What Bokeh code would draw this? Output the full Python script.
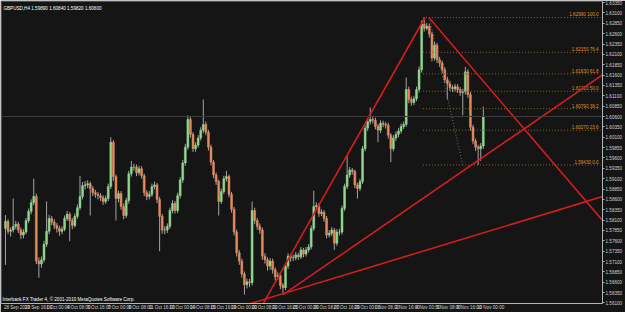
from bokeh.plotting import figure
from bokeh.models import Range1d, FixedTicker, Label, Span, PrintfTickFormatter
from bokeh.embed import file_html
from bokeh.resources import INLINE
from bokeh.core.properties import value

# ---------------- data (GBPUSD, H4, bars from 28 Sep 2010 08:00) ----------------
opens = [
    1.5790, 1.5807, 1.5783, 1.5786, 1.5795, 1.5800, 1.5786, 1.5774, 1.5781, 1.5809,
    1.5831, 1.5852, 1.5867, 1.5711, 1.5704, 1.5714, 1.5752, 1.5783, 1.5814, 1.5805,
    1.5797, 1.5790, 1.5783, 1.5788, 1.5814, 1.5824, 1.5809, 1.5797, 1.5819, 1.5840,
    1.5867, 1.5893, 1.5895, 1.5898, 1.5886, 1.5876, 1.5872, 1.5869, 1.5864, 1.5855,
    1.5862, 1.5891, 1.5998, 1.5915, 1.5862, 1.5874, 1.5843, 1.5821, 1.5857, 1.5922,
    1.5938, 1.5938, 1.5924, 1.5934, 1.5917, 1.5876, 1.5867, 1.5872, 1.5891, 1.5895,
    1.5860, 1.5819, 1.5786, 1.5786, 1.5795, 1.5833, 1.5850, 1.5833, 1.5869, 1.5907,
    1.5948, 1.5986, 1.6053, 1.6017, 1.5982, 1.5991, 1.6008, 1.6027, 1.6041, 1.6022,
    1.5986, 1.5950, 1.5919, 1.5903, 1.5855, 1.5879, 1.5910, 1.5915, 1.5872, 1.5836,
    1.5781, 1.5731, 1.5711, 1.5680, 1.5654, 1.5661, 1.5659, 1.5833, 1.5809, 1.5795,
    1.5786, 1.5723, 1.5714, 1.5699, 1.5711, 1.5690, 1.5673, 1.5676, 1.5652, 1.5647,
    1.5699, 1.5723, 1.5719, 1.5719, 1.5726, 1.5721, 1.5738, 1.5728, 1.5738, 1.5745,
    1.5790, 1.5843, 1.5845, 1.5826, 1.5829, 1.5814, 1.5774, 1.5778, 1.5786, 1.5754,
    1.5781, 1.5781, 1.5838, 1.5891, 1.5919, 1.5931, 1.5927, 1.5895, 1.5886, 1.5903,
    1.5982, 1.6032, 1.6048, 1.6053, 1.6051, 1.6036, 1.6027, 1.6044, 1.6041, 1.6039,
    1.6015, 1.5982, 1.6008, 1.6017, 1.6025, 1.6036, 1.6041, 1.6125, 1.6101, 1.6094,
    1.6103, 1.6125, 1.6173, 1.6283, 1.6273, 1.6278, 1.6259, 1.6201, 1.6232, 1.6197,
    1.6189, 1.6173, 1.6149, 1.6139, 1.6130, 1.6127, 1.6132, 1.6125, 1.6118, 1.6120,
    1.6168, 1.6113, 1.6034, 1.6001, 1.5986, 1.5982, 1.5989,
]
highs = [
    1.5822, 1.5812, 1.5792, 1.5862, 1.5808, 1.5806, 1.5792, 1.5788, 1.5815, 1.5838,
    1.5860, 1.5910, 1.5874, 1.5720, 1.5722, 1.5760, 1.5855, 1.5823, 1.5820, 1.5812,
    1.5803, 1.5796, 1.5795, 1.5821, 1.5832, 1.5829, 1.5815, 1.5826, 1.5848, 1.5917,
    1.5902, 1.5904, 1.5906, 1.5903, 1.5892, 1.5883, 1.5878, 1.5875, 1.5870, 1.5869,
    1.5898, 1.6010, 1.6003, 1.5920, 1.5881, 1.5880, 1.5850, 1.5864, 1.5929, 1.5953,
    1.5946, 1.5944, 1.5941, 1.5940, 1.5922, 1.5882, 1.5880, 1.5898, 1.5903, 1.5900,
    1.5866, 1.5825, 1.5795, 1.5802, 1.5840, 1.5858, 1.5856, 1.5876, 1.5914, 1.5955,
    1.5994, 1.6063, 1.6060, 1.6022, 1.5998, 1.6015, 1.6034, 1.6101, 1.6048, 1.6028,
    1.5992, 1.5955, 1.5925, 1.5908, 1.5886, 1.5917, 1.5929, 1.5920, 1.5878, 1.5842,
    1.5787, 1.5738, 1.5717, 1.5686, 1.5669, 1.5668, 1.5855, 1.5840, 1.5815, 1.5802,
    1.5792, 1.5730, 1.5720, 1.5718, 1.5717, 1.5696, 1.5684, 1.5682, 1.5658, 1.5706,
    1.5730, 1.5728, 1.5727, 1.5733, 1.5731, 1.5745, 1.5743, 1.5745, 1.5752, 1.5797,
    1.5881, 1.5853, 1.5851, 1.5836, 1.5834, 1.5820, 1.5786, 1.5793, 1.5791, 1.5788,
    1.5789, 1.5845, 1.5898, 1.5965, 1.5938, 1.5936, 1.5932, 1.5900, 1.5910, 1.5989,
    1.6039, 1.6056, 1.6082, 1.6060, 1.6057, 1.6042, 1.6051, 1.6050, 1.6047, 1.6045,
    1.6020, 1.6015, 1.6024, 1.6032, 1.6043, 1.6048, 1.6154, 1.6132, 1.6108, 1.6110,
    1.6132, 1.6181, 1.6292, 1.6299, 1.6286, 1.6284, 1.6265, 1.6240, 1.6238, 1.6204,
    1.6195, 1.6179, 1.6156, 1.6146, 1.6136, 1.6139, 1.6138, 1.6131, 1.6127, 1.6180,
    1.6174, 1.6119, 1.6040, 1.6007, 1.5992, 1.5996, 1.6084,
]
lows = [
    1.5702, 1.5776, 1.5770, 1.5780, 1.5788, 1.5779, 1.5764, 1.5766, 1.5776, 1.5803,
    1.5824, 1.5846, 1.5704, 1.5671, 1.5695, 1.5708, 1.5745, 1.5776, 1.5798, 1.5788,
    1.5780, 1.5772, 1.5776, 1.5783, 1.5808, 1.5759, 1.5788, 1.5792, 1.5813, 1.5834,
    1.5860, 1.5884, 1.5887, 1.5821, 1.5868, 1.5864, 1.5860, 1.5856, 1.5847, 1.5849,
    1.5856, 1.5885, 1.5905, 1.5809, 1.5853, 1.5835, 1.5812, 1.5815, 1.5850, 1.5915,
    1.5929, 1.5916, 1.5918, 1.5910, 1.5868, 1.5858, 1.5860, 1.5866, 1.5884, 1.5851,
    1.5735, 1.5777, 1.5776, 1.5779, 1.5789, 1.5826, 1.5826, 1.5827, 1.5862, 1.5900,
    1.5941, 1.5980, 1.6009, 1.5974, 1.5975, 1.5985, 1.6002, 1.6020, 1.6015, 1.5978,
    1.5942, 1.5911, 1.5895, 1.5821, 1.5849, 1.5873, 1.5903, 1.5865, 1.5828, 1.5773,
    1.5722, 1.5702, 1.5671, 1.5630, 1.5645, 1.5648, 1.5652, 1.5801, 1.5787, 1.5777,
    1.5714, 1.5705, 1.5688, 1.5690, 1.5681, 1.5664, 1.5666, 1.5643, 1.5630, 1.5641,
    1.5692, 1.5710, 1.5711, 1.5713, 1.5714, 1.5716, 1.5720, 1.5722, 1.5732, 1.5739,
    1.5784, 1.5836, 1.5818, 1.5820, 1.5806, 1.5766, 1.5768, 1.5771, 1.5738, 1.5748,
    1.5773, 1.5775, 1.5832, 1.5885, 1.5912, 1.5920, 1.5887, 1.5862, 1.5880, 1.5897,
    1.5976, 1.6025, 1.6041, 1.6043, 1.6029, 1.5998, 1.6020, 1.6034, 1.6031, 1.6007,
    1.5950, 1.5976, 1.6001, 1.6010, 1.6019, 1.6030, 1.6035, 1.6092, 1.6086, 1.6088,
    1.6097, 1.6118, 1.6166, 1.6265, 1.6268, 1.6251, 1.6193, 1.6195, 1.6189, 1.6180,
    1.6165, 1.6141, 1.6101, 1.6122, 1.6119, 1.6120, 1.6117, 1.6110, 1.6063, 1.6113,
    1.6105, 1.6026, 1.5993, 1.5977, 1.5943, 1.5953, 1.5982,
]
closes = [
    1.5807, 1.5783, 1.5786, 1.5795, 1.5800, 1.5786, 1.5774, 1.5781, 1.5809, 1.5831,
    1.5852, 1.5867, 1.5711, 1.5704, 1.5714, 1.5752, 1.5783, 1.5814, 1.5805, 1.5797,
    1.5790, 1.5783, 1.5788, 1.5814, 1.5824, 1.5809, 1.5797, 1.5819, 1.5840, 1.5867,
    1.5893, 1.5895, 1.5898, 1.5886, 1.5876, 1.5872, 1.5869, 1.5864, 1.5855, 1.5862,
    1.5891, 1.5998, 1.5915, 1.5862, 1.5874, 1.5843, 1.5821, 1.5857, 1.5922, 1.5938,
    1.5938, 1.5924, 1.5934, 1.5917, 1.5876, 1.5867, 1.5872, 1.5891, 1.5895, 1.5860,
    1.5819, 1.5786, 1.5786, 1.5795, 1.5833, 1.5850, 1.5833, 1.5869, 1.5907, 1.5948,
    1.5986, 1.6053, 1.6017, 1.5982, 1.5991, 1.6008, 1.6027, 1.6041, 1.6022, 1.5986,
    1.5950, 1.5919, 1.5903, 1.5855, 1.5879, 1.5910, 1.5915, 1.5872, 1.5836, 1.5781,
    1.5731, 1.5711, 1.5680, 1.5654, 1.5661, 1.5659, 1.5833, 1.5809, 1.5795, 1.5786,
    1.5723, 1.5714, 1.5699, 1.5711, 1.5690, 1.5673, 1.5676, 1.5652, 1.5647, 1.5699,
    1.5723, 1.5719, 1.5719, 1.5726, 1.5721, 1.5738, 1.5728, 1.5738, 1.5745, 1.5790,
    1.5843, 1.5845, 1.5826, 1.5829, 1.5814, 1.5774, 1.5778, 1.5786, 1.5754, 1.5781,
    1.5781, 1.5838, 1.5891, 1.5919, 1.5931, 1.5927, 1.5895, 1.5886, 1.5903, 1.5982,
    1.6032, 1.6048, 1.6053, 1.6051, 1.6036, 1.6027, 1.6044, 1.6041, 1.6039, 1.6015,
    1.5982, 1.6008, 1.6017, 1.6025, 1.6036, 1.6041, 1.6125, 1.6101, 1.6094, 1.6103,
    1.6125, 1.6173, 1.6283, 1.6273, 1.6278, 1.6259, 1.6201, 1.6232, 1.6197, 1.6189,
    1.6173, 1.6149, 1.6139, 1.6130, 1.6127, 1.6132, 1.6125, 1.6118, 1.6120, 1.6168,
    1.6113, 1.6034, 1.6001, 1.5986, 1.5982, 1.5989, 1.6060,
]

# time-axis labels (every 8th H4 bar)
time_label_bars = [0, 8, 16, 24, 32, 40, 48, 56, 64, 72, 80, 88, 96, 104, 112, 120,
                   128, 136, 144, 152, 160, 168, 176, 184]
time_labels = ["28 Sep 2010", "29 Sep 16:00", "1 Oct 00:00", "4 Oct 08:00", "5 Oct 16:00",
               "7 Oct 00:00", "8 Oct 08:00", "11 Oct 16:00", "13 Oct 00:00", "14 Oct 08:00",
               "15 Oct 16:00", "19 Oct 00:00", "20 Oct 08:00", "21 Oct 16:00", "25 Oct 00:00",
               "26 Oct 08:00", "27 Oct 16:00", "29 Oct 00:00", "1 Nov 08:00", "2 Nov 16:00",
               "4 Nov 00:00", "5 Nov 08:00", "8 Nov 16:00", "10 Nov 00:00"]

# price-axis ticks
price_ticks = [1.6335, 1.6310, 1.6285, 1.6260, 1.6235, 1.6210, 1.6185, 1.6160, 1.6135, 1.6110,
               1.6085, 1.6060, 1.6035, 1.6010, 1.5985, 1.5960, 1.5935, 1.5910, 1.5885, 1.5860,
               1.5835, 1.5810, 1.5785, 1.5760, 1.5735, 1.5710, 1.5685, 1.5660, 1.5635, 1.5610]

# Fibonacci retracement (high / low anchors)
fib_anchor_bars = [165, 178]
fib_high = 1.6299
fib_low = 1.5943
fib_levels = [0.0, 23.6, 38.2, 50.0, 61.8, 76.4, 100.0]

# trend lines: (bar, price) anchor pairs
trend_x = [[95.0, 163.3], [164.8, 240.0], [85.0, 240.0], [108.1, 240.0]]
trend_y = [[1.5550, 1.6299], [1.6299, 1.5754], [1.5589, 1.5881], [1.5630, 1.6193]]

header = "GBPUSD,H4  1.59890 1.60840 1.59820 1.60600"
copyright_text = "Interbank FX Trader 4, \u00a9 2001-2010 MetaQuotes Software Corp."

# ---------------- styling ----------------
BG = "#151515"
BULL = "#8fd98f"
BEAR = "#e8895e"
WICK = "#a4a4a4"
RED = "#d21e1e"
FIB_LINE = "#8f6326"
FIB_TXT = "#e08f2a"
AXIS = "#b4b4b4"
TXT = "#d0d0d0"
FONT = "Liberation Sans"

n = len(closes)
bars = list(range(n))
colors = [BULL if c >= o else BEAR for o, c in zip(opens, closes)]
tops = [max(o, c) for o, c in zip(opens, closes)]
bots = [min(o, c) for o, c in zip(opens, closes)]

p = figure(width=625, height=312, output_backend="svg", toolbar_location=None,
           x_range=Range1d(-1.55, 232.4), y_range=Range1d(1.56087, 1.63376),
           y_axis_location="right", x_axis_location="below",
           min_border_left=1, min_border_top=1, min_border_right=18, min_border_bottom=6,
           background_fill_color=BG, border_fill_color=BG)
p.grid.visible = False
p.outline_line_color = "#505050"

# bid line
p.add_layout(Span(location=closes[-1], dimension="width", line_color="#3c3c3c", line_width=1))

# candles
p.segment(x0=bars, x1=bars, y0=lows, y1=highs, color=WICK, line_width=1)
p.vbar(x=bars, width=0.75, top=tops, bottom=bots, fill_color=colors, line_color=colors, line_width=0.5)

# fibonacci
fib_prices = [fib_low + (fib_high - fib_low) * lv / 100.0 for lv in fib_levels]
p.segment(x0=[162.5] * len(fib_prices), x1=[231.6] * len(fib_prices), y0=fib_prices, y1=fib_prices,
          line_color=FIB_LINE, line_dash="1 2", line_width=1)
p.line(fib_anchor_bars, [fib_high, fib_low], line_color="#6e6e6e", line_dash="1 2", line_width=1)
p.text(x=[231.4] * len(fib_prices), y=fib_prices,
       text=["%.5f  %.1f" % (pr, lv) for pr, lv in zip(fib_prices, fib_levels)],
       text_align="right", text_baseline="bottom", text_color=FIB_TXT,
       text_font=value(FONT), text_font_size="4.6px", y_offset=0)

# trend lines
p.multi_line(xs=trend_x, ys=trend_y, line_color=RED, line_width=1.6)

# texts
p.add_layout(Label(x=-0.8, y=1.6321, text=header, text_color="#ffffff", text_font=FONT,
                   text_font_size="4.6px", text_baseline="middle"))
p.add_layout(Label(x=-1.2, y=1.5618, text=copyright_text, text_color="#ffffff", text_font=FONT,
                   text_font_size="4.6px", text_baseline="middle"))
p.add_layout(Label(x=233.2, y=closes[-1], text="%.5f" % closes[-1], text_color="#000000",
                   text_font=FONT, text_font_size="4.6px", text_baseline="middle",
                   background_fill_color="#ffffff"))

# axes
ya = p.yaxis[0]
ya.ticker = FixedTicker(ticks=price_ticks)
ya.formatter = PrintfTickFormatter(format="%.5f")
ya.axis_line_color = AXIS
ya.major_tick_line_color = AXIS
ya.major_tick_out = 2
ya.major_tick_in = 0
ya.minor_tick_line_color = None
ya.major_label_standoff = 1
ya.major_label_text_font = FONT
ya.major_label_text_font_size = "4.6px"
ya.major_label_text_color = TXT

xa = p.xaxis[0]
shifted = [b + 0.4 + 0.37 * len(t) for b, t in zip(time_label_bars, time_labels)]
xa.ticker = FixedTicker(ticks=shifted)
xa.major_label_overrides = {s: t for s, t in zip(shifted, time_labels)}
xa.axis_line_color = AXIS
xa.major_tick_line_color = None
xa.major_tick_out = 0
xa.major_tick_in = 0
xa.minor_tick_line_color = None
xa.major_label_standoff = 1
xa.major_label_text_font = FONT
xa.major_label_text_font_size = "4.6px"
xa.major_label_text_color = TXT

open("out.html", "w").write(file_html(p, INLINE))
